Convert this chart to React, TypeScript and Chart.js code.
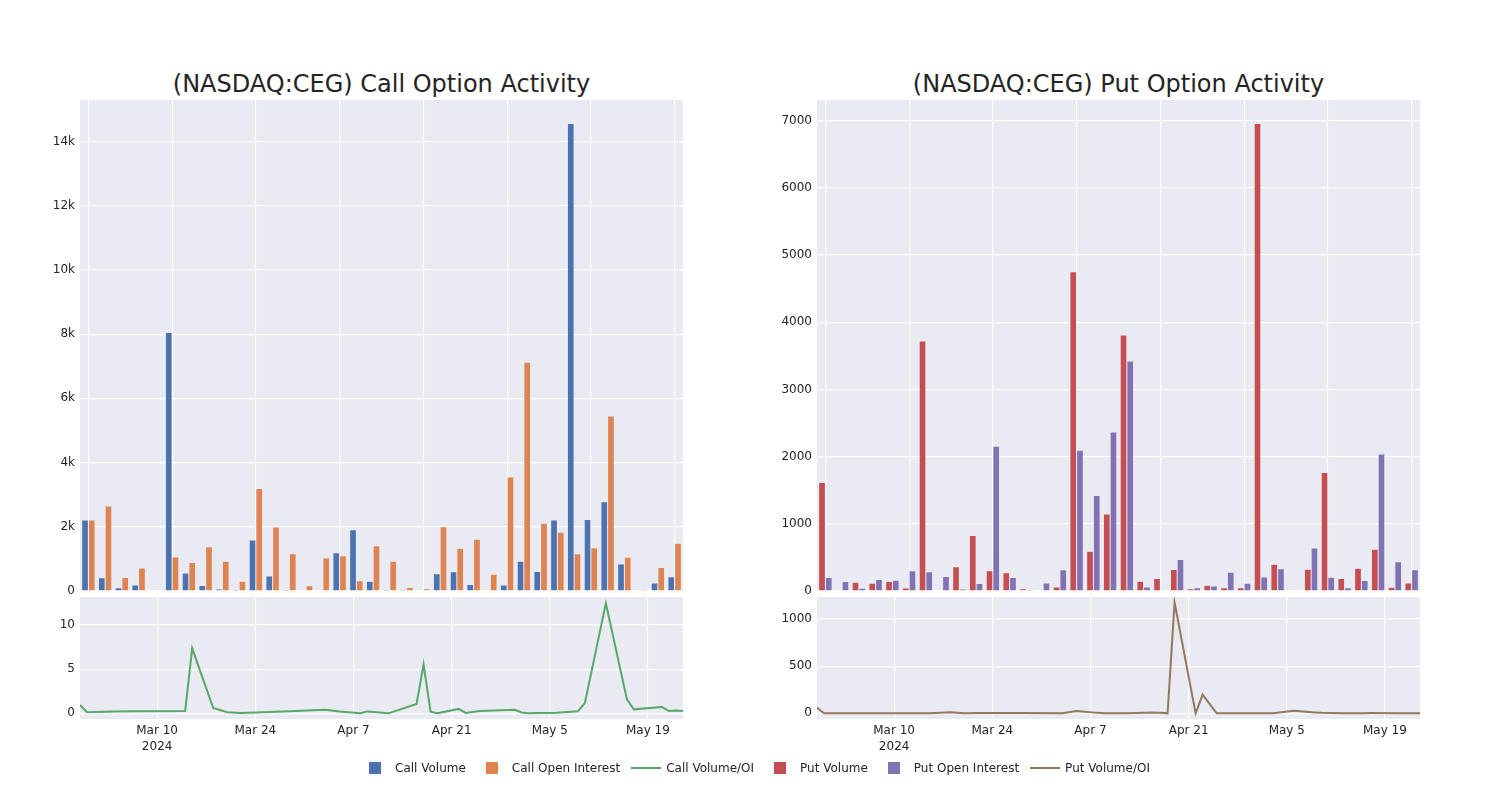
import React, { useEffect, useRef } from 'react';
import { Chart, registerables } from 'chart.js';

Chart.register(...registerables);

// ---------- data ----------
const dates = [
  '2024-02-28', '2024-02-29', '2024-03-04', '2024-03-07', '2024-03-14', '2024-03-15',
  '2024-03-18', '2024-03-20', '2024-03-22', '2024-03-28', '2024-04-03', '2024-04-05',
  '2024-04-08', '2024-04-09', '2024-04-12', '2024-04-16', '2024-04-17', '2024-04-18',
  '2024-04-19', '2024-04-22', '2024-04-23', '2024-04-25', '2024-04-30', '2024-05-01',
  '2024-05-02', '2024-05-03', '2024-05-06', '2024-05-09', '2024-05-10', '2024-05-13',
  '2024-05-16', '2024-05-17', '2024-05-21', '2024-05-22', '2024-05-23', '2024-05-24',
];

const callVolume = [
  2210, 410, 100, 190, 10, 8050, 560, 170, 60, 50, 1590, 470,
  50, 20, 10, 1190, 1910, 300, 40, 50, 5, 540, 600, 200,
  20, 190, 930, 610, 2210, 14560, 2230, 2780, 840, 20, 250, 440,
];
const callOpenInterest = [
  2210, 2650, 420, 720, 10, 1060, 890, 1380, 930, 300, 3190, 1990,
  1160, 160, 1030, 1100, 320, 1410, 930, 110, 70, 2000, 1330, 1610,
  520, 3550, 7120, 2110, 1830, 1160, 1350, 5450, 1050, 40, 730, 1490,
];
const callVolumeOI = [
  0.95, 0.12, 0.2, 0.25, 0.27, 7.35, 0.6, 0.12, 0.05, 0.2, 0.4, 0.2,
  0.0, 0.22, 0.0, 1.05, 5.55, 0.18, 0.0, 0.5, 0.05, 0.26, 0.41, 0.1,
  0.0, 0.03, 0.08, 0.23, 1.15, 12.45, 1.58, 0.45, 0.72, 0.26, 0.32, 0.26,
];

const putVolume = [
  1615, 10, 130, 115, 140, 45, 3720, 5, 360, 825, 300, 270,
  35, 0, 60, 4750, 590, 1145, 3810, 145, 185, 320, 35, 85,
  50, 50, 6960, 400, 5, 325, 1765, 185, 340, 620, 55, 120,
];
const putOpenInterest = [
  200, 140, 40, 170, 160, 300, 285, 215, 30, 110, 2155, 200,
  20, 120, 315, 2095, 1420, 2365, 3425, 60, 0, 470, 50, 75,
  280, 115, 210, 330, 0, 640, 205, 50, 155, 2040, 435, 315,
];
const putVolumeOI = [
  60, 0, 0, 0, 0, 0, 12, 0, 3, 3, 2, 25,
  5, 0, 0, 10, 5, 0, 1175, 0, 198, 0, 0, 0,
  0, 0, 28, 10, 5, 0, 2, 3, 2, 1, 0, 0,
];

const dateTickValues = ['2024-03-10', '2024-03-24', '2024-04-07', '2024-04-21', '2024-05-05', '2024-05-19'];
const dateTickLabels: (string | string[])[] = [['Mar 10', '2024'], 'Mar 24', 'Apr 7', 'Apr 21', 'May 5', 'May 19'];

const callBarTicks = [0, 2000, 4000, 6000, 8000, 10000, 12000, 14000];
const putBarTicks = [0, 1000, 2000, 3000, 4000, 5000, 6000, 7000];
const callLineTicks = [0, 5, 10];
const putLineTicks = [0, 500, 1000];

const COLORS = {
  callVolume: '#4C72B0',
  callOI: '#DD8452',
  callVOI: '#55A868',
  putVolume: '#C44E52',
  putOI: '#8172B3',
  putVOI: '#937860',
};

const FONT = 'DejaVu Sans, Verdana, sans-serif';
const TEXT = '#242424';
const PLOT_BG = '#EAEAF2';

const dayNum = (s: string) =>
  Date.UTC(+s.slice(0, 4), +s.slice(5, 7) - 1, +s.slice(8, 10)) / 86400000;

const bgPlugin = {
  id: 'plotBg',
  beforeDraw(chart: any) {
    const { ctx, chartArea } = chart;
    if (!chartArea) return;
    ctx.save();
    ctx.fillStyle = PLOT_BG;
    ctx.fillRect(chartArea.left, chartArea.top, chartArea.right - chartArea.left, chartArea.bottom - chartArea.top);
    ctx.restore();
  },
};

const kFormat = (v: number) => (v === 0 ? '0' : `${v / 1000}k`);
const plainFormat = (v: number) => String(v);

function makeBar(
  canvas: HTMLCanvasElement,
  names: [string, string],
  a: number[],
  b: number[],
  colors: [string, string],
  yMax: number,
  yTicks: number[],
  fmt: (v: number) => string,
) {
  return new Chart(canvas, {
    type: 'bar',
    data: {
      labels: dates,
      datasets: [
        { label: names[0], data: a, backgroundColor: colors[0], borderColor: PLOT_BG, borderWidth: 0.5, categoryPercentage: 0.8, barPercentage: 1 },
        { label: names[1], data: b, backgroundColor: colors[1], borderColor: PLOT_BG, borderWidth: 0.5, categoryPercentage: 0.8, barPercentage: 1 },
      ],
    },
    options: {
      animation: false,
      responsive: false,
      maintainAspectRatio: false,
      layout: { padding: { top: 20, right: 17, bottom: 20, left: 0 } },
      plugins: { legend: { display: false }, tooltip: { enabled: false }, title: { display: false } },
      scales: {
        x: {
          type: 'category',
          offset: true,
          grid: { offset: false, color: '#ffffff', lineWidth: 1.2, drawTicks: false },
          border: { display: false },
          ticks: { display: false, autoSkip: false },
          afterBuildTicks: (s: any) => {
            s.ticks = s.ticks.filter((t: any) => t.value % 5 === 0);
          },
          afterFit: (s: any) => {
            s.height = 0;
          },
        },
        y: {
          min: 0,
          max: yMax,
          grid: { color: '#ffffff', lineWidth: 1.2, drawTicks: false },
          border: { display: false },
          afterBuildTicks: (s: any) => {
            s.ticks = yTicks.map((v) => ({ value: v }));
          },
          ticks: {
            padding: 5,
            color: TEXT,
            font: { family: FONT, size: 12 },
            callback: (v: any) => fmt(Number(v)),
          },
          afterFit: (s: any) => {
            s.width = 80;
          },
        },
      },
    },
    plugins: [bgPlugin],
  } as any);
}

function makeLine(
  canvas: HTMLCanvasElement,
  name: string,
  values: number[],
  color: string,
  yMin: number,
  yMax: number,
  yTicks: number[],
) {
  return new Chart(canvas, {
    type: 'line',
    data: {
      datasets: [
        {
          label: name,
          data: dates.map((d, i) => ({ x: dayNum(d), y: values[i] })),
          borderColor: color,
          backgroundColor: color,
          borderWidth: 2,
          pointRadius: 0,
          tension: 0,
          fill: false,
        },
      ],
    },
    options: {
      animation: false,
      responsive: false,
      maintainAspectRatio: false,
      layout: { padding: { top: 20, right: 17, bottom: 0, left: 0 } },
      plugins: { legend: { display: false }, tooltip: { enabled: false }, title: { display: false } },
      scales: {
        x: {
          type: 'linear',
          min: dayNum(dates[0]),
          max: dayNum(dates[dates.length - 1]),
          grid: { color: '#ffffff', lineWidth: 1.2, drawTicks: false },
          border: { display: false },
          afterBuildTicks: (s: any) => {
            s.ticks = dateTickValues.map((d) => ({ value: dayNum(d) }));
          },
          ticks: {
            autoSkip: false,
            maxRotation: 0,
            padding: 4,
            color: TEXT,
            font: { family: FONT, size: 12, lineHeight: 1.35 },
            callback: (_v: any, i: number) => dateTickLabels[i],
          },
          afterFit: (s: any) => {
            s.height = 51;
          },
        },
        y: {
          min: yMin,
          max: yMax,
          grid: { color: '#ffffff', lineWidth: 1.2, drawTicks: false },
          border: { display: false },
          afterBuildTicks: (s: any) => {
            s.ticks = yTicks.map((v) => ({ value: v }));
          },
          ticks: {
            padding: 5,
            color: TEXT,
            font: { family: FONT, size: 12 },
            callback: (v: any) => plainFormat(Number(v)),
          },
          afterFit: (s: any) => {
            s.width = 80;
          },
        },
      },
    },
    plugins: [bgPlugin],
  } as any);
}

const legendItems = [
  { label: 'Call Volume', color: COLORS.callVolume, kind: 'box' },
  { label: 'Call Open Interest', color: COLORS.callOI, kind: 'box' },
  { label: 'Call Volume/OI', color: COLORS.callVOI, kind: 'line' },
  { label: 'Put Volume', color: COLORS.putVolume, kind: 'box' },
  { label: 'Put Open Interest', color: COLORS.putOI, kind: 'box' },
  { label: 'Put Volume/OI', color: COLORS.putVOI, kind: 'line' },
];

const BAR_W = 700;
const BAR_H = 531;
const LINE_H = 193;

export default function App() {
  const callBarRef = useRef<HTMLCanvasElement>(null);
  const callLineRef = useRef<HTMLCanvasElement>(null);
  const putBarRef = useRef<HTMLCanvasElement>(null);
  const putLineRef = useRef<HTMLCanvasElement>(null);

  useEffect(() => {
    const charts: Chart[] = [];
    charts.push(
      makeBar(callBarRef.current!, ['Call Volume', 'Call Open Interest'], callVolume, callOpenInterest,
        [COLORS.callVolume, COLORS.callOI], 15290, callBarTicks, kFormat),
    );
    charts.push(
      makeLine(callLineRef.current!, 'Call Volume/OI', callVolumeOI, COLORS.callVOI, -0.64, 13.15, callLineTicks),
    );
    charts.push(
      makeBar(putBarRef.current!, ['Put Volume', 'Put Open Interest'], putVolume, putOpenInterest,
        [COLORS.putVolume, COLORS.putOI], 7308, putBarTicks, plainFormat),
    );
    charts.push(
      makeLine(putLineRef.current!, 'Put Volume/OI', putVolumeOI, COLORS.putVOI, -60, 1234, putLineTicks),
    );
    return () => charts.forEach((c) => c.destroy());
  }, []);

  const abs = (left: number, top: number, w: number, h: number): React.CSSProperties => ({
    position: 'absolute', left, top, width: w, height: h,
  });

  const titleStyle = (left: number): React.CSSProperties => ({
    position: 'absolute', left, top: 69, width: 603, textAlign: 'center',
    fontFamily: FONT, fontSize: 24, lineHeight: '30px', color: TEXT, whiteSpace: 'nowrap',
  });

  return (
    <div style={{ position: 'absolute', left: 0, top: 0, width: 1500, height: 800, background: '#ffffff', overflow: 'hidden' }}>
      <div style={titleStyle(80)}>(NASDAQ:CEG) Call Option Activity</div>
      <div style={titleStyle(817)}>(NASDAQ:CEG) Put Option Activity</div>

      <canvas ref={callBarRef} width={BAR_W} height={BAR_H} style={abs(0, 80, BAR_W, BAR_H)} />
      <canvas ref={callLineRef} width={BAR_W} height={LINE_H} style={abs(0, 577, BAR_W, LINE_H)} />
      <canvas ref={putBarRef} width={BAR_W} height={BAR_H} style={abs(737, 80, BAR_W, BAR_H)} />
      <canvas ref={putLineRef} width={BAR_W} height={LINE_H} style={abs(737, 577, BAR_W, LINE_H)} />

      <div style={{
        position: 'absolute', left: 355, top: 760, height: 16, display: 'flex', alignItems: 'center',
        fontFamily: FONT, fontSize: 12, color: TEXT, whiteSpace: 'nowrap',
      }}>
        {legendItems.map((it) => (
          <div key={it.label} style={{ display: 'flex', alignItems: 'center', marginRight: 6 }}>
            <div style={{ width: 40, height: 16, position: 'relative' }}>
              {it.kind === 'box' ? (
                <div style={{ position: 'absolute', left: 14, top: 2, width: 12, height: 12, background: it.color }} />
              ) : (
                <div style={{ position: 'absolute', left: 5, top: 7, width: 30, height: 2, background: it.color }} />
              )}
            </div>
            <span>{it.label}</span>
          </div>
        ))}
      </div>
    </div>
  );
}
